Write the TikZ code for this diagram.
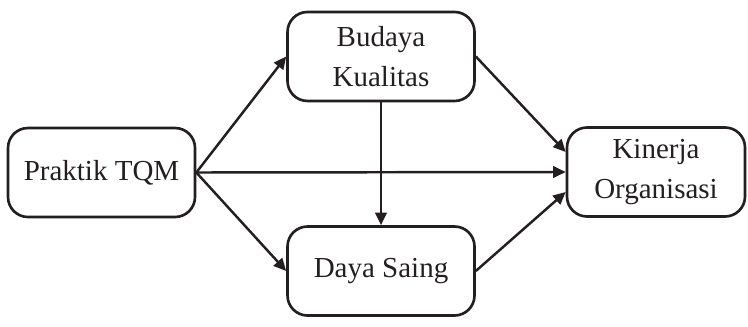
\documentclass[tikz,border=0pt]{standalone}
\usepackage{fontspec}
\setmainfont{Liberation Serif}
\usepackage{tikz}
\usetikzlibrary{arrows.meta,positioning,calc}
\definecolor{ink}{HTML}{231F20}

\begin{document}
\begin{tikzpicture}[
  every node/.style={font=\fontsize{16.5}{23}\selectfont, text=ink},
  box/.style={draw=ink, line width=1.5pt, rounded corners=0.4cm,
    minimum width=3.74cm, minimum height=1.78cm, align=center, inner sep=0pt},
  edge/.style={-{Triangle[length=2.5mm, width=2.3mm]}, draw=ink, line width=1.4pt},
]
  \useasboundingbox (0,0) rectangle (14.96,6.52);
  \node[box] (tqm)  at (2.03, 3.07)  {Praktik TQM};
  \node[box] (bud)  at (7.62, 5.39)  {Budaya\\Kualitas};
  \node[box] (daya) at (7.62, 1.10)  {Daya Saing};
  \node[box, minimum width=3.56cm] (kin) at (13.12, 3.08) {Kinerja\\Organisasi};
  \draw[edge] (tqm.east) -- (bud.west);
  \draw[edge] (tqm.east) -- (daya.west);
  \draw[edge] (tqm.east) -- (kin.west);
  \draw[edge] (bud.south) -- (daya.north);
  \draw[edge] (bud.east)  -- ([yshift=0.4cm]kin.west);
  \draw[edge] (daya.east) -- ([yshift=-0.4cm]kin.west);
\end{tikzpicture}
\end{document}
